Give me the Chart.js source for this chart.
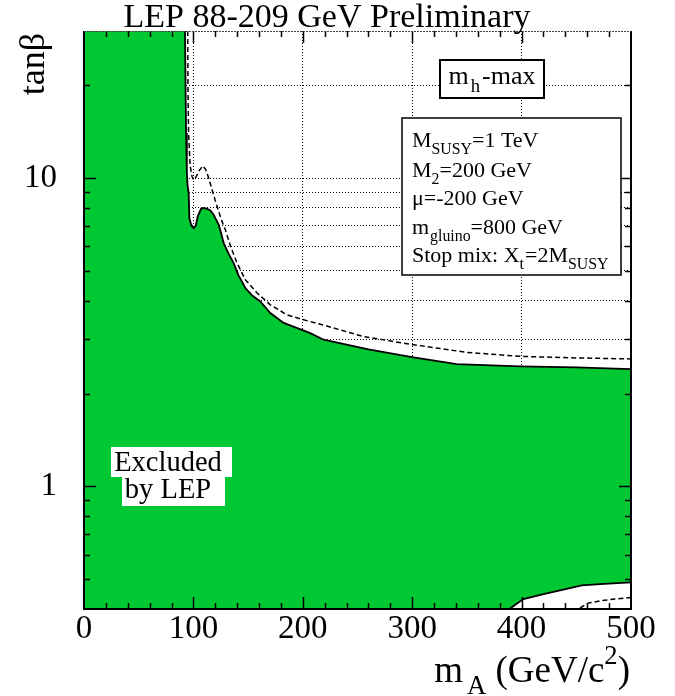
<!DOCTYPE html>
<html>
<head>
<meta charset="utf-8">
<script src="https://cdn.jsdelivr.net/npm/chart.js@4.4.0/dist/chart.umd.min.js"></script>
<style>
html,body{margin:0;padding:0;background:#fff;}
#wrap{width:675px;height:696px;position:relative;}
</style>
</head>
<body>
<div id="wrap"><canvas id="c" width="675" height="696"></canvas></div>
<script>
// ---- Data ----
// Excluded region boundary, observed (solid line)
const solidMA   = [92.3, 92.8, 93.3, 94.0, 94.6, 95.7, 96.3, 98.2, 100.3, 102.1, 103.9, 107.0, 109.5, 112.5, 115.5, 118.5, 121.0, 123.1, 125.5, 127.7, 132.0, 136.8, 141.0, 147.5, 154.0, 161.2, 170.3, 182.5, 206.8, 219.0, 260.0, 301.2, 340.7, 398.6, 450.0, 500.0];
const solidTanB = [30.0, 20.0, 14.0, 10.5, 9.5, 8.9, 7.42, 7.0, 6.88, 7.0, 7.5, 7.95, 8.0, 7.95, 7.85, 7.6, 7.3, 7.06, 6.6, 6.15, 5.7, 5.3, 4.85, 4.4, 4.15, 3.98, 3.65, 3.39, 3.14, 2.99, 2.78, 2.62, 2.49, 2.45, 2.43, 2.40];
// Expected limit (dashed line)
const dashedMA   = [94.8, 95.0, 95.6, 97.0, 98.8, 100.5, 102.5, 105.5, 108.5, 111.0, 114.0, 117.1, 120.0, 123.1, 126.0, 129.2, 134.0, 139.9, 147.5, 158.2, 170.3, 185.6, 200.7, 221.0, 255.5, 301.2, 350.0, 398.6, 450.0, 500.0];
const dashedTanB = [30.0, 20.0, 14.0, 11.0, 10.1, 9.85, 10.1, 10.6, 10.95, 10.7, 10.0, 9.16, 8.45, 7.79, 7.25, 6.8, 6.0, 5.3, 4.68, 4.24, 3.88, 3.6, 3.47, 3.32, 3.06, 2.88, 2.72, 2.64, 2.61, 2.59];
// Lower allowed corner (bottom right)
const lowSolidMA   = [388.8, 401.6, 420.0, 438.2, 455.0, 471.7, 500.0];
const lowSolidTanB = [0.40, 0.431, 0.447, 0.462, 0.477, 0.482, 0.488];
const lowDashedMA   = [453.4, 461.0, 471.7, 485.0, 500.0];
const lowDashedTanB = [0.403, 0.418, 0.425, 0.431, 0.436];

// Axes
const xRange = [0, 500];
const yRange = [0.4, 30];
const xTickValues = [0,20,40,60,80,100,120,140,160,180,200,220,240,260,280,300,320,340,360,380,400,420,440,460,480,500];
const xTickLabels = [0,100,200,300,400,500];
const xGridValues = [100,200,300,400];
const yTickValues = [0.5,0.6,0.7,0.8,0.9,1,2,3,4,5,6,7,8,9,10,20];
const yTickLabels = [1,10];
const yMajorTicks = [1,10];

// Texts
const titleText = 'LEP 88-209 GeV Preliminary';
const excludedLines = ['Excluded', 'by LEP'];

const GREEN = '#00c832';
const SERIF = '"Liberation Serif", "Times New Roman", serif';

const pts = (xs, ys) => xs.map((x, i) => ({x: x, y: ys[i]}));

// ---- rich text helper ----
function richWidth(ctx, parts, size) {
  let w = 0;
  for (const p of parts) {
    const s = p.sub || p.sup ? size * 0.72 : size;
    ctx.font = s + 'px ' + SERIF;
    w += ctx.measureText(p.t).width + (p.gap || 0);
  }
  return w;
}
function drawRich(ctx, x, y, parts, size) {
  let cx = x;
  ctx.textAlign = 'left';
  ctx.textBaseline = 'alphabetic';
  for (const p of parts) {
    const s = p.sub || p.sup ? size * 0.72 : size;
    ctx.font = s + 'px ' + SERIF;
    let dy = 0;
    if (p.sub) dy = size * 0.32;
    if (p.sup) dy = -size * 0.5;
    ctx.fillText(p.t, cx, y + dy);
    cx += ctx.measureText(p.t).width + (p.gap || 0);
  }
  return cx;
}

// ---- frame & inward ticks (drawn above the filled area) ----
const framePlugin = {
  id: 'frame',
  afterDatasetsDraw(chart) {
    const ctx = chart.ctx;
    const a = chart.chartArea;
    const xs = chart.scales.x, ys = chart.scales.y;
    ctx.save();
    ctx.strokeStyle = '#000';
    ctx.lineWidth = 1.5;
    for (const v of xTickValues) {
      if (v === xRange[0] || v === xRange[1]) continue;
      const px = Math.round(xs.getPixelForValue(v)) + 0.5;
      const len = (v % 100 === 0) ? 12 : 6;
      ctx.beginPath();
      ctx.moveTo(px, a.bottom); ctx.lineTo(px, a.bottom - len);
      ctx.moveTo(px, a.top); ctx.lineTo(px, a.top + len);
      ctx.stroke();
    }
    for (const v of yTickValues) {
      const py = Math.round(ys.getPixelForValue(v)) + 0.5;
      const len = yMajorTicks.includes(v) ? 12 : 6;
      ctx.beginPath();
      ctx.moveTo(a.left, py); ctx.lineTo(a.left + len, py);
      ctx.moveTo(a.right, py); ctx.lineTo(a.right - len, py);
      ctx.stroke();
    }
    ctx.lineWidth = 2;
    ctx.beginPath();
    ctx.moveTo(a.left, a.top); ctx.lineTo(a.left, a.bottom); ctx.lineTo(a.right, a.bottom); ctx.lineTo(a.right, a.top);
    ctx.stroke();
    ctx.lineWidth = 1;
    ctx.strokeStyle = '#444';
    ctx.setLineDash([2, 1]);
    ctx.beginPath();
    ctx.moveTo(a.left, a.top + 0.5); ctx.lineTo(a.right, a.top + 0.5);
    ctx.stroke();
    ctx.restore();
  }
};

// ---- texts ----
const textPlugin = {
  id: 'texts',
  afterDraw(chart) {
    const ctx = chart.ctx;
    ctx.save();
    ctx.fillStyle = '#000';
    // title
    ctx.font = '34px ' + SERIF;
    ctx.textAlign = 'center';
    ctx.textBaseline = 'alphabetic';
    ctx.fillText(titleText, 327, 27);

    // y axis title
    ctx.save();
    ctx.translate(44, 33);
    ctx.rotate(-Math.PI / 2);
    ctx.font = '36px ' + SERIF;
    ctx.textAlign = 'right';
    ctx.fillText('tan\u03B2', 0, 0);
    ctx.restore();

    // x axis title  m_A (GeV/c^2)
    const xt = [{t: 'm', gap: 4}, {t: 'A', sub: true, gap: 0}, {t: ' (GeV/c'}, {t: '2', sup: true}, {t: ')'}];
    const xw = richWidth(ctx, xt, 37);
    drawRich(ctx, 630 - xw, 682, xt, 37);

    // m_h-max box
    ctx.fillStyle = '#fff';
    ctx.fillRect(440, 60, 104, 38);
    ctx.strokeStyle = '#000';
    ctx.lineWidth = 2;
    ctx.strokeRect(440, 60, 104, 38);
    ctx.fillStyle = '#000';
    const mh = [{t: 'm', gap: 2}, {t: 'h', sub: true, gap: 2}, {t: '-max'}];
    const mw = richWidth(ctx, mh, 26);
    drawRich(ctx, 492 - mw / 2, 84, mh, 26);

    // parameter box
    ctx.fillStyle = '#fff';
    ctx.fillRect(402, 118, 219, 157);
    ctx.lineWidth = 1.5;
    ctx.strokeRect(402, 118, 219, 157);
    ctx.fillStyle = '#000';
    const lines = [
      [{t: 'M'}, {t: 'SUSY', sub: true}, {t: '=1 TeV'}],
      [{t: 'M'}, {t: '2', sub: true}, {t: '=200 GeV'}],
      [{t: '\u03BC=-200 GeV'}],
      [{t: 'm', gap: 1}, {t: 'gluino', sub: true}, {t: '=800 GeV'}],
      [{t: 'Stop mix: X'}, {t: 't', sub: true, gap: 1}, {t: '=2M'}, {t: 'SUSY', sub: true}]
    ];
    const base = [147, 176.5, 205, 233.5, 262];
    lines.forEach((ln, i) => drawRich(ctx, 412, base[i], ln, 22));

    // Excluded by LEP
    ctx.fillStyle = '#fff';
    ctx.fillRect(111, 447, 121, 30);
    ctx.fillRect(122, 476, 103, 30);
    ctx.fillStyle = '#000';
    ctx.font = '28.5px ' + SERIF;
    ctx.textAlign = 'center';
    ctx.fillText(excludedLines[0], 168, 471);
    ctx.fillText(excludedLines[1], 168, 498);
    ctx.restore();
  }
};

const ctx = document.getElementById('c').getContext('2d');
new Chart(ctx, {
  type: 'line',
  data: {
    datasets: [
      { label: 'excluded', data: [{x: xRange[0], y: yRange[1]}].concat(pts(solidMA, solidTanB)),
        fill: 'start', backgroundColor: GREEN, borderWidth: 0, borderColor: 'rgba(0,0,0,0)', pointRadius: 0, tension: 0, order: 5 },
      { label: 'allowed corner', data: pts(lowSolidMA, lowSolidTanB),
        fill: 'start', backgroundColor: '#fff', borderColor: '#000', borderWidth: 1.8, pointRadius: 0, tension: 0, order: 4 },
      { label: 'observed', data: pts(solidMA, solidTanB),
        fill: false, borderColor: '#000', borderWidth: 1.8, pointRadius: 0, tension: 0, order: 3 },
      { label: 'expected', data: pts(dashedMA, dashedTanB),
        fill: false, borderColor: '#000', borderWidth: 1.5, borderDash: [5, 3], pointRadius: 0, tension: 0, order: 2 },
      { label: 'expected corner', data: pts(lowDashedMA, lowDashedTanB),
        fill: false, borderColor: '#000', borderWidth: 1.5, borderDash: [5, 3], pointRadius: 0, tension: 0, order: 1 }
    ]
  },
  options: {
    responsive: false,
    animation: false,
    layout: { padding: { left: 0, top: 31, right: 44, bottom: 0 } },
    plugins: { legend: { display: false }, tooltip: { enabled: false }, title: { display: false } },
    scales: {
      x: {
        type: 'linear', position: 'bottom', min: xRange[0], max: xRange[1],
        afterBuildTicks: s => { s.ticks = xTickValues.map(v => ({value: v})); },
        afterFit: s => { s.height = 87; s.paddingLeft = 0; s.paddingRight = 0; },
        ticks: {
          autoSkip: false, maxRotation: 0, minRotation: 0, padding: 1, color: '#000',
          font: { family: SERIF, size: 33 },
          callback: v => xTickLabels.includes(v) ? String(v) : ''
        },
        grid: {
          drawTicks: false, lineWidth: 1,
          color: c => (c.tick && xGridValues.includes(c.tick.value)) ? '#000' : 'rgba(0,0,0,0)'
        },
        border: { display: false, dash: [1, 2] }
      },
      y: {
        type: 'logarithmic', position: 'left', min: yRange[0], max: yRange[1],
        afterBuildTicks: s => { s.ticks = yTickValues.map(v => ({value: v})); },
        afterFit: s => { s.width = 84; s.paddingTop = 0; s.paddingBottom = 0; },
        ticks: {
          autoSkip: false, padding: 27, color: '#000',
          font: { family: SERIF, size: 33 },
          callback: v => yTickLabels.includes(v) ? String(v) : ''
        },
        grid: { drawTicks: false, lineWidth: 1, color: '#000' },
        border: { display: false, dash: [1, 2] }
      }
    }
  },
  plugins: [framePlugin, textPlugin]
});
</script>
</body>
</html>
